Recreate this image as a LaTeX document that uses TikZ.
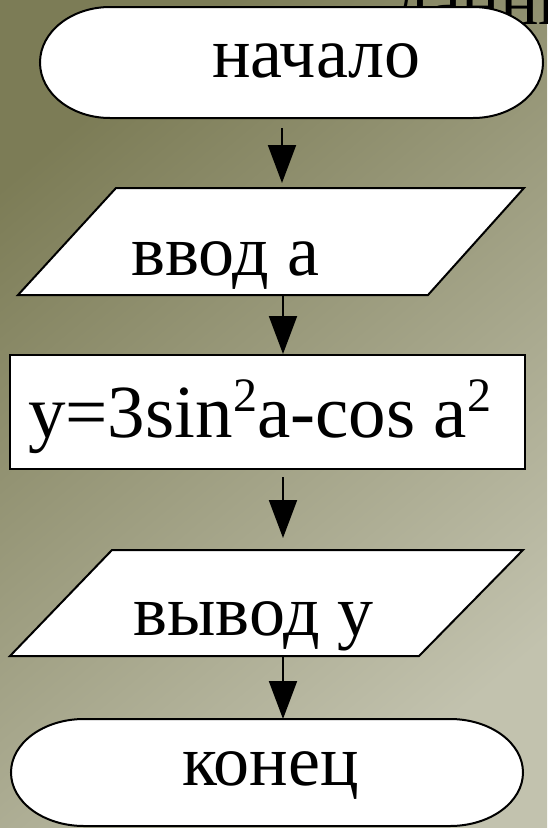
\documentclass[tikz,border=0pt]{standalone}
\usepackage{fontspec}
\setmainfont{Liberation Serif}
\usetikzlibrary{arrows.meta}
\definecolor{bgdark}{RGB}{124,124,86}
\definecolor{bglight}{RGB}{194,194,174}
\newcommand{\supdigit}[1]{\raisebox{26pt}{\fontsize{48}{50}\selectfont #1}}
\tikzset{
  shapeline/.style={draw=black, fill=white, line width=2pt, line join=miter},
  lbl/.style={inner sep=0pt, anchor=base west, font=\fontsize{72}{80}\selectfont},
  flbl/.style={inner sep=0pt, anchor=base west, font=\fontsize{75}{82}\selectfont},
  arr/.style={line width=2pt, -{Triangle[length=38pt,width=28pt]}}
}
\begin{document}
\begin{tikzpicture}[x=1pt,y=-1pt]
\useasboundingbox (0,0) rectangle (547,828);
\shade[top color=bgdark, bottom color=bglight, shading angle=40] (0,0) rectangle (547,828);
% partially visible title text
\node[lbl] (title) at (393,24) {данные};
% terminal start
\draw[shapeline] (110,7) -- (473,7) arc[start angle=90,end angle=-90,x radius=70pt,y radius=55.5pt]
  -- (110,118) arc[start angle=270,end angle=90,x radius=70pt,y radius=55.5pt] -- cycle;
\node[lbl] (start) at (212,77) {начало};
% input parallelogram
\draw[shapeline] (116,188) -- (524,188) -- (428,295) -- (18,295) -- cycle;
\node[lbl] (input) at (131,275) {ввод а};
% process
\draw[shapeline] (10,355) rectangle (525,469);
\node[flbl] (proc) at (28,437) {y=3sin\supdigit{2}a-cos a\supdigit{2}};
% output parallelogram
\draw[shapeline] (112,550) -- (523,550) -- (419,656) -- (10,656) -- cycle;
\node[lbl] (output) at (133,635) {вывод у};
% terminal end
\draw[shapeline] (84,719) -- (450,719) arc[start angle=90,end angle=-90,x radius=73pt,y radius=53.5pt]
  -- (84,826) arc[start angle=270,end angle=90,x radius=73pt,y radius=53.5pt] -- cycle;
\node[lbl] (stop) at (182,785) {конец};
% connector ports
\coordinate (a1s) at (282,128);
\coordinate (a1e) at (282,183);
\coordinate (a2s) at (283,296);
\coordinate (a2e) at (283,354);
\coordinate (a3s) at (283,477);
\coordinate (a3e) at (283,538);
\coordinate (a4s) at (283,657);
\coordinate (a4e) at (283,719);
\draw[arr] (a1s) -- (a1e);
\draw[arr] (a2s) -- (a2e);
\draw[arr] (a3s) -- (a3e);
\draw[arr] (a4s) -- (a4e);
\end{tikzpicture}
\end{document}
